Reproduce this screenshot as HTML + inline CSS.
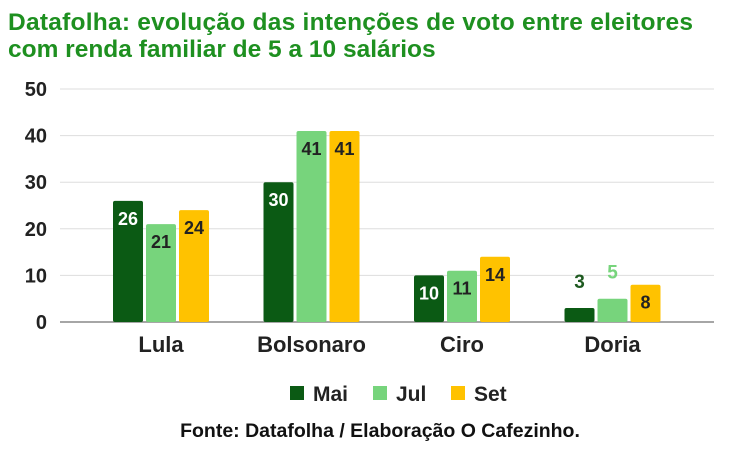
<!DOCTYPE html>
<html><head><meta charset="utf-8"><style>
body{margin:0;background:#fff;width:734px;height:448px;overflow:hidden;font-family:"Liberation Sans",sans-serif}
</style></head><body>
<svg width="734" height="448" xmlns="http://www.w3.org/2000/svg">
<text x="8" y="30" font-size="24.5" font-weight="bold" fill="#1e9020" textLength="685">Datafolha: evolução das intenções de voto entre eleitores</text>
<text x="8" y="57" font-size="24.5" font-weight="bold" fill="#1e9020">com renda familiar de 5 a 10 salários</text>
<g id="grid"></g><g id="bars"></g><g id="labels"></g>
<g>
<rect x="290" y="386" width="14" height="14" fill="#0b5a14"/>
<text x="313" y="401" font-size="21" font-weight="bold" fill="#222">Mai</text>
<rect x="373" y="386" width="14" height="14" fill="#77d47c"/>
<text x="396" y="401" font-size="21" font-weight="bold" fill="#222">Jul</text>
<rect x="451" y="386" width="14" height="14" fill="#ffc200"/>
<text x="474" y="401" font-size="21" font-weight="bold" fill="#222">Set</text>
</g>
<text x="380" y="437" font-size="19.5" font-weight="bold" fill="#111" text-anchor="middle">Fonte: Datafolha / Elaboração O Cafezinho.</text>
</svg>
<script>
const categories=["Lula","Bolsonaro","Ciro","Doria"];
const mai=[26,30,10,3];
const jul=[21,41,11,5];
const set=[24,41,14,8];
const ticks=[0,10,20,30,40,50];
const NS="http://www.w3.org/2000/svg";
const y=v=>322-v*4.66;
const cx=i=>161+i*150.5;
function mk(t,a,p){const e=document.createElementNS(NS,t);for(const k in a)e.setAttribute(k,a[k]);p.appendChild(e);return e;}
const grid=document.getElementById('grid'),bars=document.getElementById('bars'),labels=document.getElementById('labels');
ticks.forEach(t=>{
  const l=mk('line',{x1:60,x2:714,y1:y(t),y2:y(t),stroke:t===0?'#888':'#ddd','stroke-width':t===0?1.5:1},grid);
  
  
  const tx=mk('text',{x:47,y:y(t)+7,'font-size':20,'font-weight':'bold','text-anchor':'end',fill:'#222'},grid);
  tx.textContent=t;
  
  
});
const series=[[mai,'#0b5a14','#fff','mai'],[jul,'#77d47c','#222','jul'],[set,'#ffc200','#222','set']];
const aboveColors=['#1e5a20','#77d47c','#222'];
categories.forEach((c,i)=>{
  series.forEach((s,j)=>{
    const v=s[0][i],x=cx(i)-48+j*33,w=30;
    const r=mk('rect',{x:x,y:y(v),width:w,height:322-y(v),fill:s[1],rx:2},bars);
    
    
    const inside=(322-y(v))>25;
    const t=mk('text',{x:x+w/2,y:inside?y(v)+24:y(v)-20,'font-size':inside?18:19,'font-weight':'bold','text-anchor':'middle',fill:inside?s[2]:aboveColors[j]},labels);
    t.textContent=v;
    
    
  });
  const t=mk('text',{x:cx(i),y:352,'font-size':22,'font-weight':'bold','text-anchor':'middle',fill:'#222'},labels);
  t.textContent=c;
  
  
});
</script>
</body></html>
